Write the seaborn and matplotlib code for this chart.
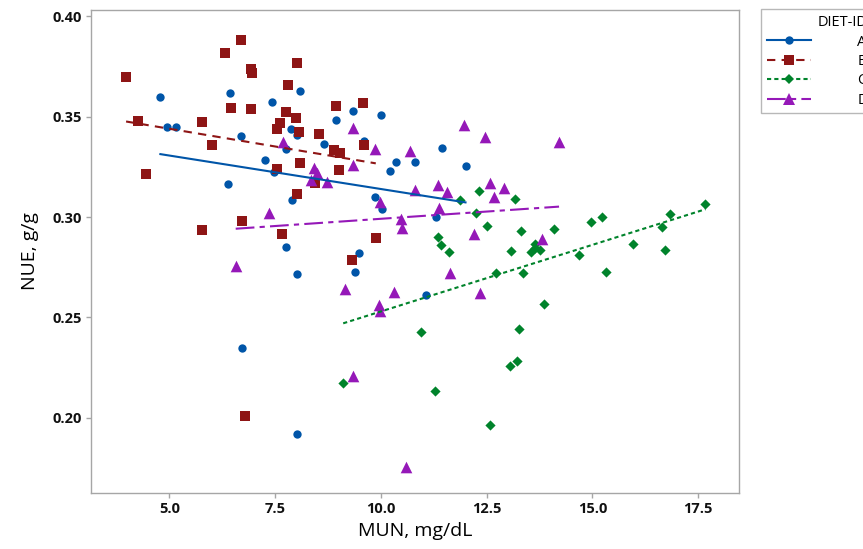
import pandas as pd
import matplotlib
matplotlib.use("Agg")
import matplotlib.pyplot as plt
import seaborn as sns
from matplotlib.lines import Line2D
from matplotlib.ticker import FormatStrFormatter

# === Data (MUN mg/dL, NUE g/g) ===
a_mun = [4.79, 4.95, 5.15, 6.44, 8.10, 7.43, 9.33, 10.00, 8.95, 7.88, 8.01, 6.69,
         8.66, 9.59, 7.76, 10.35, 10.80, 10.22, 7.26, 7.48, 6.39, 9.85, 10.03, 7.91,
         7.76, 9.48, 8.03, 9.40, 6.71, 8.01, 11.44, 12.00, 11.30, 11.07]
a_nue = [0.3597, 0.3451, 0.3451, 0.3619, 0.3630, 0.3571, 0.3531, 0.3508, 0.3483, 0.3441, 0.3408, 0.3404,
         0.3366, 0.3378, 0.3338, 0.3273, 0.3273, 0.3231, 0.3283, 0.3223, 0.3164, 0.3100, 0.3040, 0.3084,
         0.2852, 0.2819, 0.2716, 0.2726, 0.2349, 0.1920, 0.3345, 0.3256, 0.3002, 0.2611]

b_mun = [3.98, 6.69, 6.32, 8.01, 6.92, 6.95, 7.80, 6.47, 6.94, 4.25, 5.77, 7.77,
         7.99, 7.61, 7.55, 8.06, 8.95, 9.58, 8.55, 6.02, 8.90, 9.03, 9.60, 4.45,
         8.10, 7.55, 9.01, 8.44, 8.03, 6.73, 5.77, 7.67, 9.88, 9.32, 6.79]
b_nue = [0.3700, 0.3883, 0.3817, 0.3770, 0.3737, 0.3720, 0.3659, 0.3543, 0.3539, 0.3480, 0.3476, 0.3526,
         0.3493, 0.3468, 0.3440, 0.3423, 0.3554, 0.3570, 0.3414, 0.3358, 0.3335, 0.3318, 0.3361, 0.3213,
         0.3270, 0.3240, 0.3235, 0.3172, 0.3114, 0.2979, 0.2937, 0.2916, 0.2894, 0.2786, 0.2008]

c_mun = [11.87, 12.32, 13.18, 12.25, 12.51, 13.30, 14.09, 11.34, 11.42, 11.62, 13.08, 13.55,
         13.65, 13.75, 13.65, 14.68, 14.97, 15.23, 15.96, 16.65, 16.84, 17.67, 16.71, 12.71,
         13.36, 15.33, 13.85, 10.94, 13.26, 13.05, 13.21, 11.27, 12.59, 9.11]
c_nue = [0.3085, 0.3132, 0.3090, 0.3022, 0.2957, 0.2932, 0.2942, 0.2902, 0.2859, 0.2826, 0.2832, 0.2828,
         0.2845, 0.2838, 0.2866, 0.2811, 0.2974, 0.3000, 0.2867, 0.2952, 0.3015, 0.3067, 0.2836, 0.2721,
         0.2723, 0.2726, 0.2565, 0.2427, 0.2442, 0.2259, 0.2284, 0.2134, 0.1965, 0.2171]

d_mun = [9.33, 7.68, 9.87, 10.69, 9.35, 8.42, 8.50, 8.34, 8.73, 10.81, 9.98, 7.36,
         10.47, 10.51, 11.96, 12.47, 14.21, 11.34, 11.57, 12.59, 12.92, 12.67, 11.37, 12.19,
         13.80, 11.64, 12.34, 6.57, 9.15, 10.32, 9.95, 9.98, 9.33, 10.59]
d_nue = [0.3443, 0.3373, 0.3340, 0.3331, 0.3261, 0.3243, 0.3220, 0.3185, 0.3174, 0.3135, 0.3077, 0.3022,
         0.2989, 0.2944, 0.3459, 0.3398, 0.3376, 0.3160, 0.3127, 0.3169, 0.3144, 0.3102, 0.3044, 0.2914,
         0.2889, 0.2723, 0.2620, 0.2756, 0.2641, 0.2628, 0.2562, 0.2533, 0.2207, 0.1755]

diets = ["A", "B", "C", "D"]

df = pd.concat([
    pd.DataFrame({"MUN": a_mun, "NUE": a_nue, "DIET": "A"}),
    pd.DataFrame({"MUN": b_mun, "NUE": b_nue, "DIET": "B"}),
    pd.DataFrame({"MUN": c_mun, "NUE": c_nue, "DIET": "C"}),
    pd.DataFrame({"MUN": d_mun, "NUE": d_nue, "DIET": "D"}),
], ignore_index=True)

# === Styles per diet ===
colors = {"A": "#0055A8", "B": "#8E1515", "C": "#00832B", "D": "#9518B8"}
markers = {"A": "o", "B": "s", "C": "D", "D": "^"}
msizes = {"A": 36, "B": 44, "C": 27, "D": 70}
lstyles = {"A": "-", "B": (0, (4, 3)), "C": (0, (2, 1.5)), "D": (0, (9, 2.5, 2.5, 2.5))}

plt.rcParams["font.family"] = ["Open Sans", "DejaVu Sans"]

fig = plt.figure(figsize=(8.63, 5.49), dpi=100)
ax = fig.add_axes([0.1054, 0.102, 0.7513, 0.8801])

for d in diets:
    sub = df[df["DIET"] == d]
    sns.scatterplot(data=sub, x="MUN", y="NUE", color=colors[d], marker=markers[d],
                    s=msizes[d], linewidth=0, ax=ax, legend=False, zorder=3)
    sns.regplot(data=sub, x="MUN", y="NUE", scatter=False, ci=None, color=colors[d],
                line_kws=dict(linestyle=lstyles[d], linewidth=1.5, zorder=4), ax=ax)

ax.set_xlim(3.15, 18.47)
ax.set_ylim(0.1624, 0.4033)
ax.set_xticks([5.0, 7.5, 10.0, 12.5, 15.0, 17.5])
ax.set_yticks([0.20, 0.25, 0.30, 0.35, 0.40])
ax.xaxis.set_major_formatter(FormatStrFormatter("%.1f"))
ax.yaxis.set_major_formatter(FormatStrFormatter("%.2f"))

for spine in ax.spines.values():
    spine.set_color("#a6a6a6")
    spine.set_linewidth(1.0)
ax.tick_params(axis="both", direction="out", length=3.5, width=1.0, color="#a6a6a6",
               labelsize=10.5, labelcolor="#111111", pad=3)
for lab in ax.get_xticklabels() + ax.get_yticklabels():
    lab.set_fontweight("bold")

ax.set_xlabel("MUN, mg/dL", fontsize=14, labelpad=4)
ax.set_ylabel("NUE, g/g", fontsize=14, labelpad=10)

# === Legend (runs off the right edge, as in the reference) ===
handles = [Line2D([], [], color=colors[d], linestyle=lstyles[d], linewidth=1.5,
                  marker=markers[d], markersize=(msizes[d] ** 0.5), markeredgewidth=0)
           for d in diets]
leg = fig.legend(handles, diets, title="DIET-ID", loc="upper left",
                 bbox_to_anchor=(761 / 863, 1 - 9.3 / 549), borderaxespad=0,
                 fontsize=10.5, title_fontsize=10.5, frameon=True, fancybox=False,
                 edgecolor="#a6a6a6", handlelength=3.0, handletextpad=3.2,
                 labelspacing=0.3, borderpad=0.4, alignment="right")
leg.get_frame().set_linewidth(1.0)

fig.savefig("out.png", dpi=100)
plt.close(fig)
